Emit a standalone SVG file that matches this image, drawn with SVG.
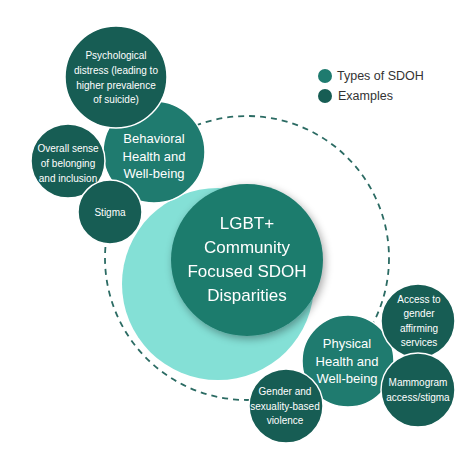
<svg xmlns="http://www.w3.org/2000/svg" width="474" height="450" viewBox="0 0 474 450">
<defs>
<filter id="sh" x="-30%" y="-30%" width="160%" height="160%">
<feGaussianBlur in="SourceAlpha" stdDeviation="4"/>
<feOffset dx="2" dy="3"/>
<feComponentTransfer><feFuncA type="linear" slope="0.35"/></feComponentTransfer>
<feMerge><feMergeNode/><feMergeNode in="SourceGraphic"/></feMerge>
</filter>
</defs>
<style>
text{font-family:"Liberation Sans",Arial,sans-serif;fill:#ffffff;text-anchor:middle}
.type{fill:#1f7b6f;stroke:#ffffff;stroke-width:1.5}
.ex{fill:#175d54;stroke:#ffffff;stroke-width:1.5}
.t13{font-size:13px}
.t10{font-size:10px}
.leg{fill:#333333;font-size:12.5px;text-anchor:start}
</style>
<rect width="474" height="450" fill="#ffffff"/>
<g id="connectors">
<circle cx="247" cy="258" r="142" fill="none" stroke="#2b6b63" stroke-width="1.8" stroke-dasharray="6,5"/>
</g>
<g id="ring">
<circle cx="218" cy="284" r="96" fill="#84e0d6"/>
</g>
<g id="center" filter="url(#sh)">
<circle cx="247" cy="260" r="76" fill="#1e7b6d"/>
<text font-size="17"><tspan x="247" y="229">LGBT+</tspan><tspan x="247" y="253">Community</tspan><tspan x="247" y="277">Focused SDOH</tspan><tspan x="247" y="301">Disparities</tspan></text>
</g>
<g id="behavioral">
<circle class="type" cx="154" cy="152" r="51"/>
<text class="t13"><tspan x="154" y="143">Behavioral</tspan><tspan x="154" y="161">Health and</tspan><tspan x="154" y="178">Well-being</tspan></text>
</g>
<g id="physical">
<circle class="type" cx="348" cy="361" r="46"/>
<text class="t13"><tspan x="347" y="348">Physical</tspan><tspan x="347" y="366">Health and</tspan><tspan x="347" y="383">Well-being</tspan></text>
</g>
<g id="psychological">
<circle class="ex" cx="116" cy="77" r="51"/>
<text class="t10"><tspan x="116" y="59">Psychological</tspan><tspan x="116" y="74">distress (leading to</tspan><tspan x="116" y="89">higher prevalence</tspan><tspan x="116" y="103">of suicide)</tspan></text>
</g>
<g id="belonging">
<circle class="ex" cx="68" cy="161" r="37"/>
<text class="t10"><tspan x="68" y="152">Overall sense</tspan><tspan x="68" y="167">of belonging</tspan><tspan x="68" y="182">and inclusion</tspan></text>
</g>
<g id="stigma">
<circle class="ex" cx="110" cy="212" r="32"/>
<text class="t10"><tspan x="110" y="216">Stigma</tspan></text>
</g>
<g id="access">
<circle class="ex" cx="418" cy="321" r="37"/>
<text class="t10"><tspan x="419" y="303">Access to</tspan><tspan x="419" y="317">gender</tspan><tspan x="419" y="332">affirming</tspan><tspan x="419" y="346">services</tspan></text>
</g>
<g id="mammogram">
<circle class="ex" cx="418" cy="390" r="37"/>
<text class="t10"><tspan x="418" y="386">Mammogram</tspan><tspan x="418" y="401">access/stigma</tspan></text>
</g>
<g id="violence">
<circle class="ex" cx="286" cy="406" r="37"/>
<text class="t10"><tspan x="285" y="395">Gender and</tspan><tspan x="285" y="410">sexuality-based</tspan><tspan x="285" y="424">violence</tspan></text>
</g>
<g id="legend">
<circle cx="325" cy="76" r="7" fill="#1f7b6f"/>
<circle cx="325" cy="96" r="7" fill="#175d54"/>
<text class="leg" x="337" y="80">Types of SDOH</text>
<text class="leg" x="338" y="100">Examples</text>
</g>
</svg>
